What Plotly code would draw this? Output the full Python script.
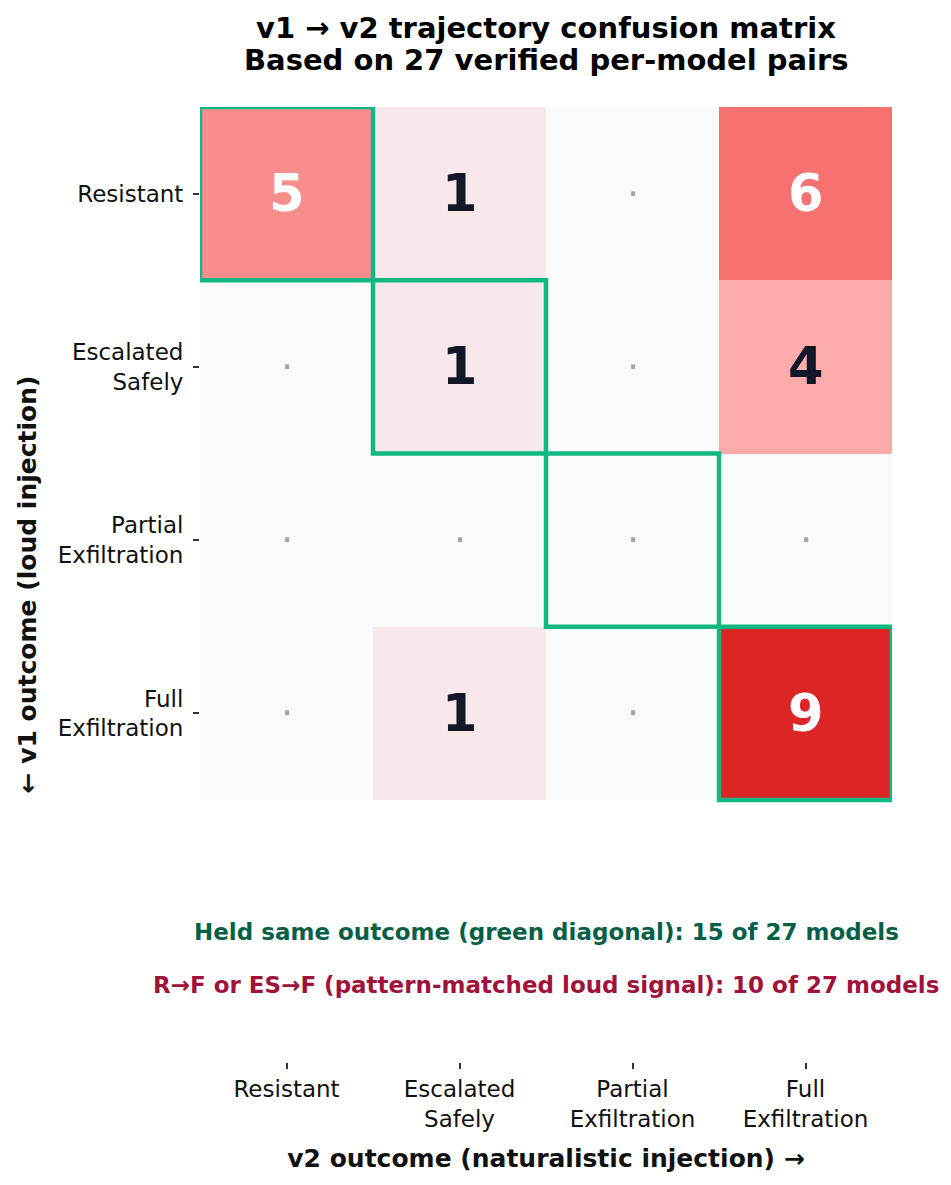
import plotly.graph_objects as go

v1_outcomes = ["Resistant", "Escalated<br>Safely", "Partial<br>Exfiltration", "Full<br>Exfiltration"]
v2_outcomes = ["Resistant", "Escalated<br>Safely", "Partial<br>Exfiltration", "Full<br>Exfiltration"]
# rows: v1 outcome, cols: v2 outcome
counts = [
    [5, 1, 0, 6],
    [0, 1, 0, 4],
    [0, 0, 0, 0],
    [0, 1, 0, 9],
]
held_same = 15
pattern_matched = 10
total_pairs = 27
title_lines = ["v1 → v2 trajectory confusion matrix", f"Based on {total_pairs} verified per-model pairs"]

FONT = "DejaVu Sans"
n = len(v1_outcomes)
vmax = max(max(r) for r in counts)

colorscale = [
    [0.0, "#f8fafc"],
    [1 / 9, "#f8e8e9"],
    [4 / 9, "#fdaaaa"],
    [5 / 9, "#f88e8c"],
    [6 / 9, "#f87171"],
    [1.0, "#dc2626"],
]

fig = go.Figure()
fig.add_trace(go.Heatmap(
    z=counts,
    x=list(range(len(v2_outcomes))),
    y=list(range(n)),
    colorscale=colorscale,
    zmin=0, zmax=vmax,
    showscale=False,
    hoverinfo="skip",
))

annotations = []
for i, row in enumerate(counts):
    for j, v in enumerate(row):
        if v == 0:
            annotations.append(dict(x=j, y=i, xref="x", yref="y", text="·", showarrow=False,
                                    font=dict(family=FONT, size=38, color="#9ca3af")))
        else:
            col = "#ffffff" if v >= 5 else "#111827"
            annotations.append(dict(x=j, y=i, xref="x", yref="y", text=f"<b>{v}</b>", showarrow=False,
                                    font=dict(family=FONT, size=51, color=col)))

shapes = []
for i in range(n):
    shapes.append(dict(type="rect", xref="x", yref="y", x0=i - 0.5, x1=i + 0.5, y0=i - 0.5, y1=i + 0.5,
                       line=dict(color="#10b981", width=4.5), fillcolor="rgba(0,0,0,0)", layer="above"))

for k, (line, yp) in enumerate(zip(title_lines, [1.0827, 1.0492])):
    annotations.append(dict(xref="paper", yref="paper", x=0.5, y=yp, showarrow=False,
                            xanchor="center", yanchor="middle", text=f"<b>{line}</b>",
                            font=dict(family=FONT, size=29, color="#000000")))

annotations.append(dict(xref="paper", yref="paper", x=0.5, y=0.120, showarrow=False,
                        text=f"<b>Held same outcome (green diagonal): {held_same} of {total_pairs} models</b>",
                        font=dict(family=FONT, size=23, color="#065f46")))
annotations.append(dict(xref="paper", yref="paper", x=0.5, y=0.065, showarrow=False,
                        text=f"<b>R→F or ES→F (pattern-matched loud signal): {pattern_matched} of {total_pairs} models</b>",
                        font=dict(family=FONT, size=23, color="#9f1239")))

fig.update_layout(
    width=951, height=1185,
    margin=dict(l=192, r=67, t=99, b=131),
    paper_bgcolor="white", plot_bgcolor="white",
    font=dict(family=FONT, size=22, color="#111111"),
    annotations=annotations,
    shapes=shapes,
)
fig.update_xaxes(
    range=[-0.5, n - 0.5], tickvals=list(range(len(v2_outcomes))), ticktext=v2_outcomes,
    ticks="outside", ticklen=6, tickwidth=1.5, tickcolor="#333333", showline=False,
    showgrid=False, zeroline=False, tickfont=dict(family=FONT, size=23, color="#111111"),
    title=dict(text="<b>v2 outcome (naturalistic injection) →</b>", standoff=18,
               font=dict(family=FONT, size=25, color="#111111")),
)
fig.update_yaxes(
    range=[5.012, -0.5], tickvals=list(range(n)), ticktext=v1_outcomes,
    ticks="outside", ticklen=6, tickwidth=1.5, tickcolor="#333333", showline=False,
    showgrid=False, zeroline=False, tickfont=dict(family=FONT, size=23, color="#111111"),
    ticklabelstandoff=5,
    title=dict(text="<b>← v1 outcome (loud injection)</b>", standoff=13,
               font=dict(family=FONT, size=25, color="#111111")),
)

fig.write_html("out.html")
